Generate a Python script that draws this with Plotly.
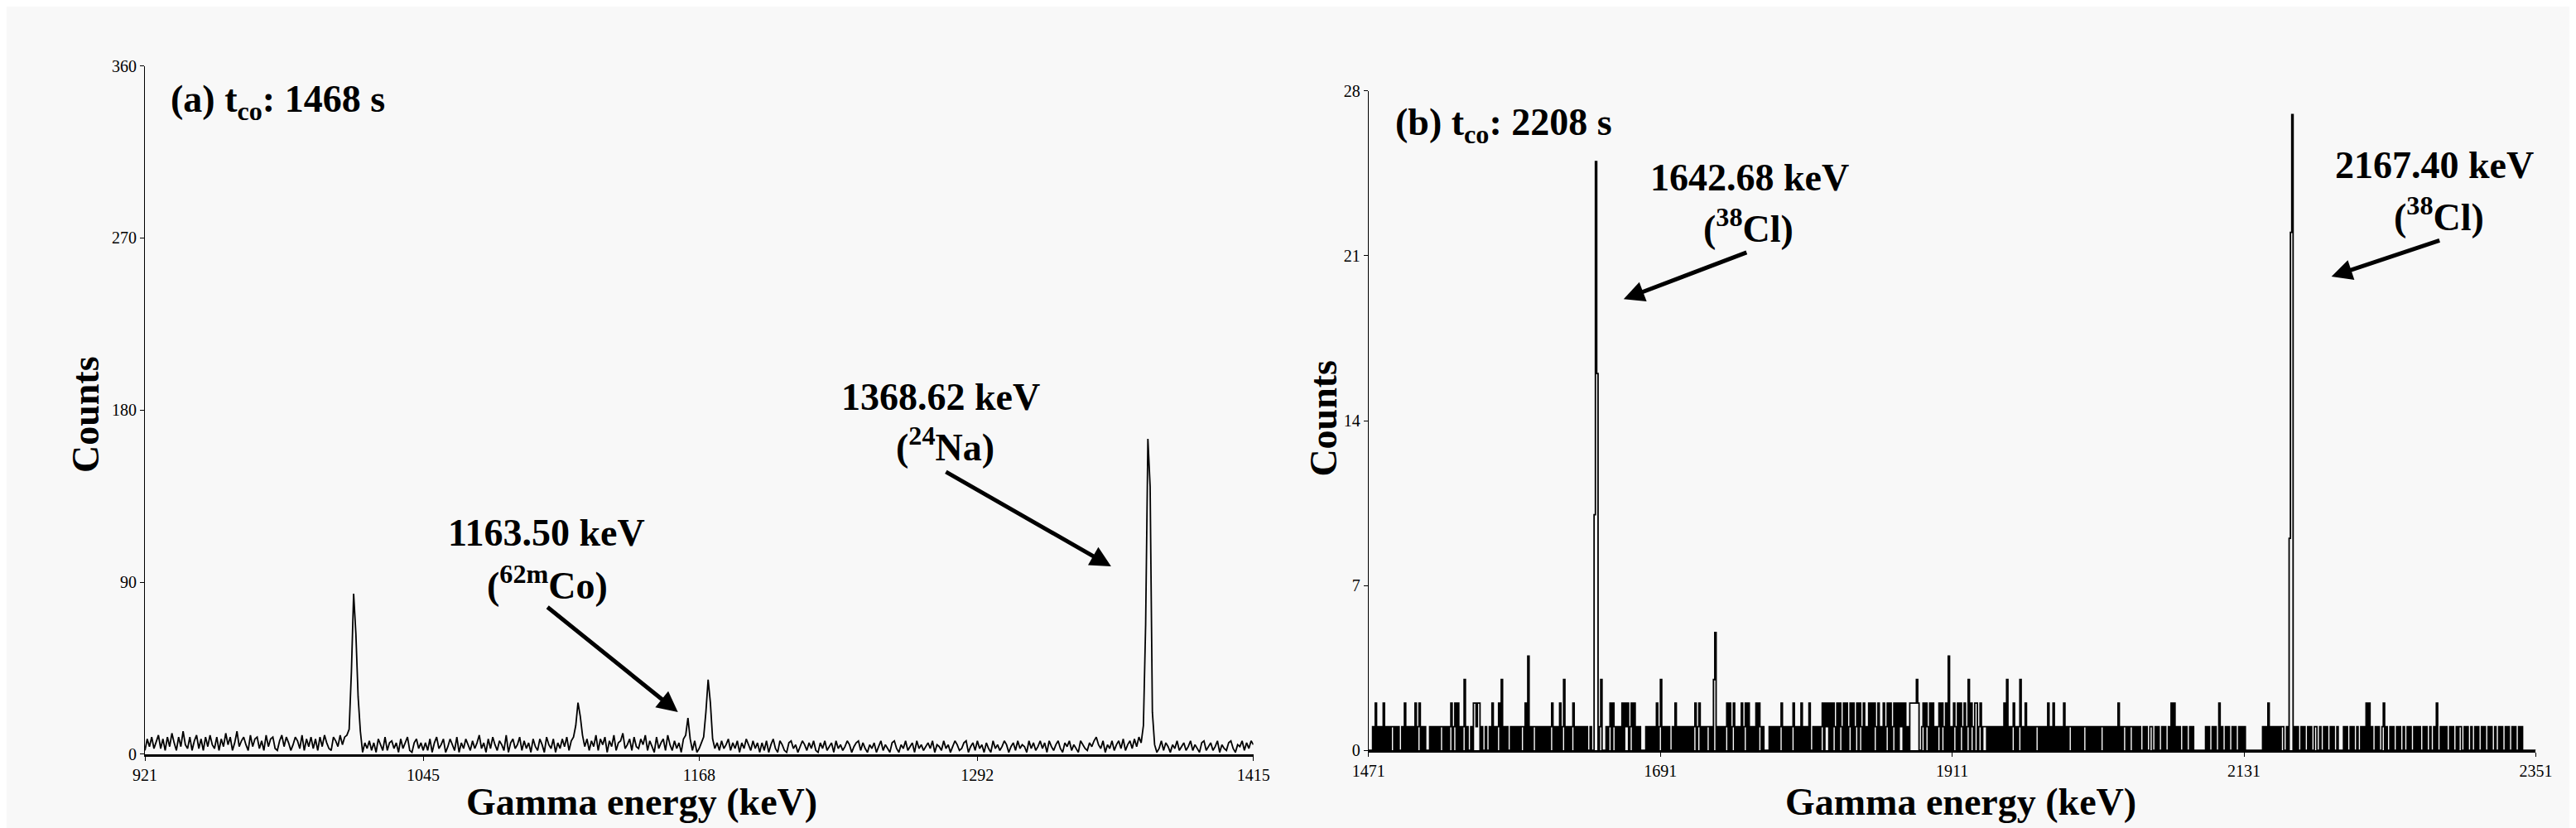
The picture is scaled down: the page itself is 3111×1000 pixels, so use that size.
import numpy as np
import plotly.graph_objects as go
from plotly.subplots import make_subplots

# spectrum (a), t_co = 1468 s: 1 keV channels starting at 921 keV
left_start_kev = 921
left_counts = [
    2, 8, 4, 9, 3, 7, 10, 3, 8, 2, 9, 4, 11, 6, 2, 9, 4, 12, 5, 3, 9, 2, 7, 10, 3,  # 921
    8, 2, 9, 4, 10, 5, 3, 9, 2, 8, 4, 11, 5, 9, 2, 6, 12, 4, 7, 9, 5, 2, 10, 4, 8,  # 946
    9, 3, 7, 2, 10, 4, 8, 9, 3, 2, 7, 10, 4, 9, 6, 2, 5, 9, 7, 3, 10, 2, 8, 4, 9,  # 971
    3, 8, 2, 9, 4, 10, 6, 3, 2, 9, 7, 4, 10, 5, 9, 10, 13, 43, 84, 63, 30, 12, 1, 6, 3,  # 996
    7, 2, 6, 1, 8, 5, 2, 9, 2, 6, 7, 3, 6, 1, 8, 3, 6, 9, 2, 1, 6, 8, 3, 6, 2,  # 1021
    6, 2, 8, 1, 6, 9, 3, 5, 8, 1, 4, 8, 5, 2, 9, 1, 6, 3, 8, 5, 2, 7, 3, 6, 10,  # 1046
    3, 6, 1, 8, 3, 9, 5, 2, 7, 5, 2, 10, 1, 6, 8, 3, 5, 9, 2, 7, 3, 6, 1, 8, 4,  # 1071
    2, 8, 5, 1, 9, 5, 3, 8, 1, 6, 3, 8, 4, 9, 2, 7, 9, 15, 27, 20, 10, 4, 8, 2, 7,  # 1096
    4, 10, 2, 8, 5, 9, 1, 7, 4, 10, 2, 6, 7, 11, 3, 5, 8, 2, 9, 4, 3, 8, 5, 10, 2,  # 1121
    7, 4, 1, 9, 3, 6, 8, 2, 10, 5, 2, 7, 3, 6, 1, 8, 10, 19, 8, 2, 7, 1, 3, 6, 9,  # 1146
    22, 39, 27, 8, 3, 6, 2, 7, 3, 5, 8, 2, 6, 3, 7, 1, 6, 3, 8, 5, 2, 7, 3, 6, 1,  # 1171
    6, 2, 7, 1, 5, 8, 3, 1, 7, 5, 2, 1, 6, 7, 3, 5, 1, 4, 7, 5, 2, 6, 3, 7, 2,  # 1196
    1, 6, 3, 7, 2, 4, 6, 1, 7, 3, 5, 2, 4, 7, 5, 1, 4, 6, 7, 2, 6, 3, 1, 5, 3,  # 1221
    6, 1, 4, 7, 2, 5, 3, 1, 6, 7, 3, 1, 5, 3, 7, 2, 4, 6, 1, 7, 3, 5, 2, 4, 6,  # 1246
    3, 7, 1, 5, 4, 2, 7, 3, 5, 1, 4, 7, 5, 2, 3, 6, 7, 1, 4, 6, 2, 7, 3, 5, 1,  # 1271
    6, 3, 1, 7, 3, 5, 2, 4, 7, 5, 1, 4, 6, 2, 7, 3, 5, 4, 1, 7, 3, 6, 2, 4, 7,  # 1296
    3, 6, 1, 7, 4, 2, 5, 7, 3, 1, 6, 4, 7, 2, 5, 3, 1, 7, 5, 3, 2, 6, 4, 7, 9,  # 1321
    5, 3, 7, 1, 5, 3, 7, 2, 5, 7, 3, 8, 2, 5, 7, 3, 8, 4, 9, 6, 15, 68, 165, 140, 22,  # 1346
    5, 1, 3, 7, 2, 6, 4, 1, 5, 3, 7, 2, 4, 6, 2, 4, 7, 2, 5, 3, 1, 6, 7, 2, 4,  # 1371
    6, 2, 4, 7, 1, 5, 3, 2, 6, 7, 3, 1, 5, 4, 7, 2, 6, 3, 7, 5,  # 1396
]
left_xticks = [921, 1045, 1168, 1292, 1415]
left_yticks = [0, 90, 180, 270, 360]

# spectrum (b), t_co = 2208 s: 1 keV channels from 1471 keV, one digit each
right_start_kev = 1471
right_digits = (
    "0001020101" "0201010110" "1010010201" "0101020120"  # 1471
    "1010001010" "1010110101" "0120120201" "0130100102"  # 1511
    "2122010010" "0102010120" "3010100101" "0101011020"  # 1551
    "4010110101" "0101010120" "1010201301" "0101201010"  # 1591
    "1010100100" "0000130001" "0120210101" "0202120120"  # 1631
    "2010100001" "0101010201" "3010101001" "0201010101"  # 1671
    "0101012012" "0101011010" "3501010101" "2020120101"  # 1711
    "0201202010" "1020210100" "0010101010" "1201010101"  # 1751
    "2010102010" "1020010101" "0120212020" "2102021020"  # 1791
    "2012020120" "2102010202" "0210201020" "1202012020"  # 1831
    "2120201022" "2223200120" "2102020101" "2021020401"  # 1871
    "0210202102" "0130210220" "1201110101" "0101010102"  # 1911
    "0301012010" "1301020101" "0101101010" "1020102010"  # 1951
    "1010201011" "0101010101" "1010101010" "1011010101"  # 1991
    "0101020101" "1010110101" "0100101001" "1001010010"  # 2031
    "1001020201" "0100101001" "0100000000" "0101001010"  # 2071
    "0201001010" "0101001010" "1000000000" "0000101020"  # 2111
    "1010101011" "0010000010" "1001010010" "1001100100"  # 2151
    "1010010100" "1000010100" "1010010010" "1020201001"  # 2191
    "0100120100" "1010010100" "1001010010" "1010010100"  # 2231
    "1001020010" "1010010100" "1011001010" "0100101001"  # 2271
    "0100101001" "0010100101" "0010100101" "0000000000"  # 2311
    "0"  # 2351
)
# the two 38Cl photopeaks need more than one digit
right_peak_kev = [1641, 1642, 1643, 2165, 2166, 2167]
right_peak_counts = [10, 25, 16, 9, 22, 27]
right_xticks = [1471, 1691, 1911, 2131, 2351]
right_yticks = [0, 7, 14, 21, 28]

W, H = 3111, 1000
bg = "#f8f8f8"
serif = "Liberation Serif, Times New Roman, serif"


def px(x):
    return x / W


def py(y):
    return 1 - y / H


left_x = left_start_kev + np.arange(len(left_counts))
right_counts = [int(c) for c in right_digits]
for kev, c in zip(right_peak_kev, right_peak_counts):
    right_counts[kev - right_start_kev] = c
right_x = right_start_kev + np.arange(len(right_counts))

fig = make_subplots(rows=1, cols=2)

fig.add_trace(go.Scatter(x=left_x,
                         y=left_counts,
                         mode="lines",
                         line=dict(color="black", width=1.8),
                         hoverinfo="skip"),
              row=1,
              col=1)

# the low-count spectrum is drawn as steps, like a channel histogram
fig.add_trace(go.Scatter(x=right_x,
                         y=right_counts,
                         mode="lines",
                         line=dict(color="black", width=1.8, shape="hv"),
                         hoverinfo="skip"),
              row=1,
              col=2)

axis_common = dict(showgrid=False,
                   zeroline=False,
                   showline=True,
                   linecolor="black",
                   ticks="outside",
                   ticklen=5,
                   tickwidth=1,
                   tickcolor="black",
                   tickfont=dict(family=serif, size=20, color="black"))

fig.update_xaxes(**axis_common, linewidth=3)
fig.update_yaxes(**axis_common, linewidth=1.2)

fig.update_layout(
    width=W,
    height=H,
    margin=dict(l=0, r=0, t=0, b=0),
    paper_bgcolor=bg,
    plot_bgcolor=bg,
    showlegend=False,
    font=dict(family=serif, color="black"),
    xaxis=dict(domain=[px(149), px(1505)],
               range=[921, 1415],
               tickvals=left_xticks),
    yaxis=dict(domain=[py(912), py(62)],
               range=[0, 360],
               tickvals=left_yticks),
    xaxis2=dict(domain=[px(1646), px(3074)],
                range=[1471, 2351],
                tickvals=right_xticks),
    yaxis2=dict(domain=[py(907), py(93)],
                range=[0, 28],
                tickvals=right_yticks),
)

# text labels: (text, x px, y px, xanchor, yanchor)
labels = [
    ("<b>(a) t<sub>co</sub>: 1468 s</b>", 178, 106, "left", "middle"),
    ("<b>(b) t<sub>co</sub>: 2208 s</b>", 1677, 135, "left", "middle"),
    ("<b>1163.50 keV</b>", 640, 639, "center", "middle"),
    ("<b>(<sup>62m</sup>Co)</b>", 641, 700, "center", "middle"),
    ("<b>1368.62 keV</b>", 1122, 471, "center", "middle"),
    ("<b>(<sup>24</sup>Na)</b>", 1128, 530, "center", "middle"),
    ("<b>1642.68 keV</b>", 2112, 200, "center", "middle"),
    ("<b>(<sup>38</sup>Cl)</b>", 2111, 260, "center", "middle"),
    ("<b>2167.40 keV</b>", 2950, 185, "center", "middle"),
    ("<b>(<sup>38</sup>Cl)</b>", 2956, 245, "center", "middle"),
    ("<b>Gamma energy (keV)</b>", 757, 943, "center", "top"),
    ("<b>Gamma energy (keV)</b>", 2370, 943, "center", "top"),
]
for text, x, y, xanchor, yanchor in labels:
    fig.add_annotation(text=text,
                       x=px(x),
                       y=py(y),
                       xref="paper",
                       yref="paper",
                       xanchor=xanchor,
                       yanchor=yanchor,
                       showarrow=False,
                       font=dict(family=serif, size=46, color="black"))

for x, y in [(48, 492), (1591, 497)]:
    fig.add_annotation(text="<b>Counts</b>",
                       x=px(x),
                       y=py(y),
                       xref="paper",
                       yref="paper",
                       textangle=-90,
                       showarrow=False,
                       font=dict(family=serif, size=46, color="black"))

# arrows: (head x, head y, tail x, tail y) in pixels
arrows = [
    (801, 860, 642, 732),
    (1331, 680, 1130, 565),
    (1958, 350, 2108, 293),
    (2824, 322, 2956, 278),
]
for hx, hy, tx, ty in arrows:
    fig.add_annotation(text="",
                       x=px(hx),
                       y=py(hy),
                       xref="paper",
                       yref="paper",
                       ax=tx - hx,
                       ay=ty - hy,
                       showarrow=True,
                       arrowhead=2,
                       arrowsize=1,
                       arrowwidth=5,
                       arrowcolor="black")

fig.write_html("out.html")
